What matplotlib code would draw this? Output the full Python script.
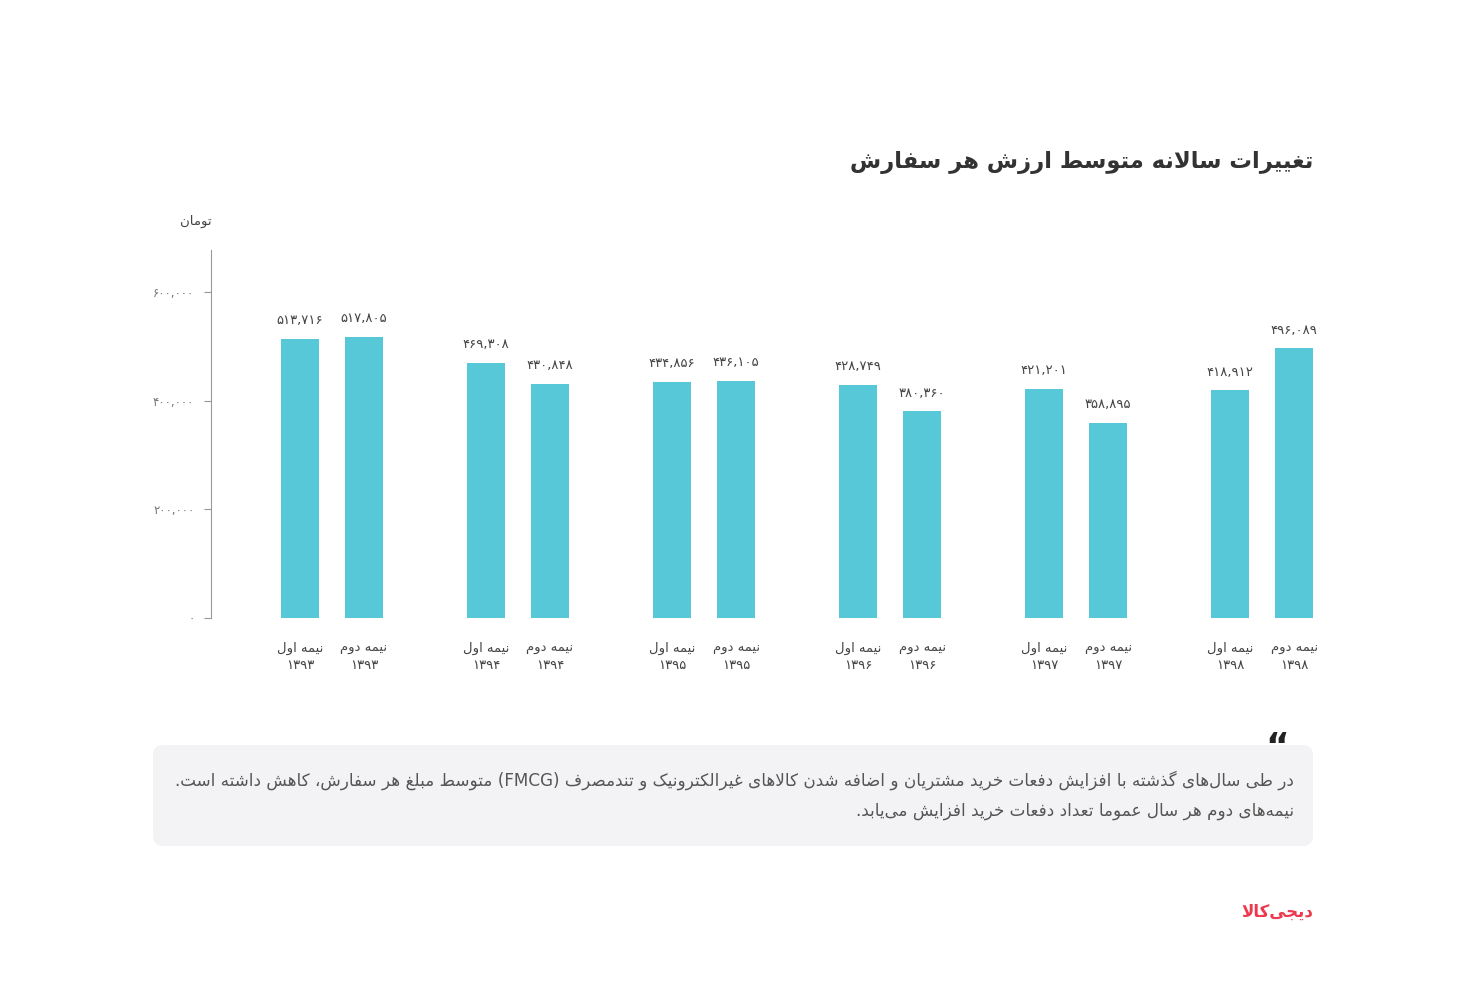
import re
import matplotlib
matplotlib.use('Agg')
import matplotlib.pyplot as plt
from matplotlib.patches import FancyBboxPatch

# data
years = ['۱۳۹۳', '۱۳۹۴', '۱۳۹۵', '۱۳۹۶', '۱۳۹۷', '۱۳۹۸']
first_half = [513716, 469308, 434856, 428749, 421201, 418912]
second_half = [517805, 430848, 436105, 380360, 358895, 496089]
half_names = ['نیمه اول', 'نیمه دوم']
y_ticks = [0, 200000, 400000, 600000]

title = 'تغییرات سالانه متوسط ارزش هر سفارش'
unit = 'تومان'
note_lines = [
    'در طی سال\u200cهای گذشته با افزایش دفعات خرید مشتریان و اضافه شدن کالاهای غیرالکترونیک و تندمصرف (FMCG) متوسط مبلغ هر سفارش، کاهش داشته است.',
    'نیمه\u200cهای دوم هر سال عموما تعداد دفعات خرید افزایش می\u200cیابد.',
]
brand = 'دیجی\u200cکالا'

# minimal arabic/persian shaping, matplotlib has no text layout for it
FORMS = {
    'ا': 'ﺍﺎ', 'آ': 'ﺁﺂ', 'أ': 'ﺃﺄ', 'د': 'ﺩﺪ', 'ذ': 'ﺫﺬ', 'ر': 'ﺭﺮ', 'ز': 'ﺯﺰ',
    'ژ': 'ﮊﮋ', 'و': 'ﻭﻮ',
    'ب': 'ﺏﺐﺑﺒ', 'پ': 'ﭖﭗﭘﭙ', 'ت': 'ﺕﺖﺗﺘ', 'ث': 'ﺙﺚﺛﺜ', 'ج': 'ﺝﺞﺟﺠ',
    'چ': 'ﭺﭻﭼﭽ', 'ح': 'ﺡﺢﺣﺤ', 'خ': 'ﺥﺦﺧﺨ', 'س': 'ﺱﺲﺳﺴ', 'ش': 'ﺵﺶﺷﺸ',
    'ص': 'ﺹﺺﺻﺼ', 'ض': 'ﺽﺾﺿﻀ', 'ط': 'ﻁﻂﻃﻄ', 'ظ': 'ﻅﻆﻇﻈ', 'ع': 'ﻉﻊﻋﻌ',
    'غ': 'ﻍﻎﻏﻐ', 'ف': 'ﻑﻒﻓﻔ', 'ق': 'ﻕﻖﻗﻘ', 'ک': 'ﮎﮏﮐﮑ', 'گ': 'ﮒﮓﮔﮕ',
    'ل': 'ﻝﻞﻟﻠ', 'م': 'ﻡﻢﻣﻤ', 'ن': 'ﻥﻦﻧﻨ', 'ه': 'ﻩﻪﻫﻬ', 'ی': 'ﯼﯽﯾﯿ',
}
LAM_ALEF = {'ا': 'ﻻﻼ', 'آ': 'ﻵﻶ'}


def shape(text):
    out = []
    i = 0
    n = len(text)
    while i < n:
        c = text[i]
        if c not in FORMS:
            if c != '\u200c':
                out.append(c)
            i += 1
            continue
        prev = text[i - 1] if i > 0 else ''
        p = prev in FORMS and len(FORMS[prev]) == 4
        if c == 'ل' and i + 1 < n and text[i + 1] in LAM_ALEF:
            out.append(LAM_ALEF[text[i + 1]][1 if p else 0])
            i += 2
            continue
        nxt = text[i + 1] if i + 1 < n else ''
        f = FORMS[c]
        q = len(f) == 4 and nxt in FORMS
        if len(f) == 2:
            out.append(f[1] if p else f[0])
        else:
            out.append(f[3] if p and q else f[1] if p else f[2] if q else f[0])
        i += 1
    return ''.join(out)


def fa(text):
    s = shape(text)
    parts = re.split(r'([A-Za-z0-9]+)', s)
    mirror = str.maketrans('()', ')(')
    res = []
    for part in reversed(parts):
        if re.fullmatch(r'[A-Za-z0-9]+', part):
            res.append(part)
        else:
            res.append(part[::-1].translate(mirror))
    return ''.join(res)


def fa_num(v):
    return '{:,}'.format(v).translate(str.maketrans('0123456789', '۰۱۲۳۴۵۶۷۸۹'))


plt.rcParams['font.family'] = ['DejaVu Sans']
bar_color = '#56C8D8'
text_color = '#444444'

fig = plt.figure(figsize=(14.67, 10), dpi=100)
fig.patch.set_facecolor('white')

# overlay in pixel coords for title, note box and logo
bg = fig.add_axes([0, 0, 1, 1])
bg.set_xlim(0, 1467)
bg.set_ylim(1000, 0)
bg.axis('off')

bg.text(1313, 163, fa(title), ha='right', va='center', fontsize=16.3,
        fontweight='bold', color='#333333')
bg.text(212, 221, fa(unit), ha='right', va='center', fontsize=9.5, color=text_color)

box = FancyBboxPatch((153, 745), 1160, 101, boxstyle='round,pad=0,rounding_size=10',
                     facecolor='#F3F3F5', edgecolor='none')
bg.add_patch(box)
bg.text(1277, 731, '\u201c', ha='center', va='top', fontsize=26,
        fontweight='bold', color='#222222')
for k, line in enumerate(note_lines):
    bg.text(1294, 780 + 31 * k, fa(line), ha='right', va='center', fontsize=12.1,
            color='#555555')

bg.text(1313, 912, fa(brand), ha='right', va='center', fontsize=12,
        fontweight='bold', color='#EE384E')

# main chart
ax = fig.add_axes([211 / 1467, 382 / 1000, (1320 - 211) / 1467, 368 / 1000])
ax.patch.set_alpha(0)
offset = 0.172
width = 0.205
groups = list(range(len(years)))
x1 = [g - offset for g in groups]
x2 = [g + offset for g in groups]
ax.bar(x1, first_half, width, color=bar_color)
ax.bar(x2, second_half, width, color=bar_color)

for xs, vals in ((x1, first_half), (x2, second_half)):
    for x, v in zip(xs, vals):
        ax.annotate(fa_num(v), (x, v), xytext=(0, 13), textcoords='offset points',
                    ha='center', va='center', fontsize=9.5, color=text_color)

ax.set_xlim(-0.65, 5.31)
ax.set_ylim(0, 677000)
ax.set_yticks(y_ticks, [fa_num(t) for t in y_ticks])
ax.tick_params(axis='y', length=5, color='#999999', labelcolor='#777777',
               labelsize=8.5, pad=7)

xpos = []
xlab = []
for k, yr in enumerate(years):
    xpos += [x1[k], x2[k]]
    xlab += [fa(half_names[0]) + '\n' + yr, fa(half_names[1]) + '\n' + yr]
ax.set_xticks(xpos, xlab)
ax.tick_params(axis='x', length=0, labelsize=9.5, labelcolor=text_color, pad=17)
for lab in ax.get_xticklabels():
    lab.set_linespacing(1.4)

for side in ('top', 'right', 'bottom'):
    ax.spines[side].set_visible(False)
ax.spines['left'].set_color('#999999')

fig.savefig('out.png', dpi=100, facecolor='white')
